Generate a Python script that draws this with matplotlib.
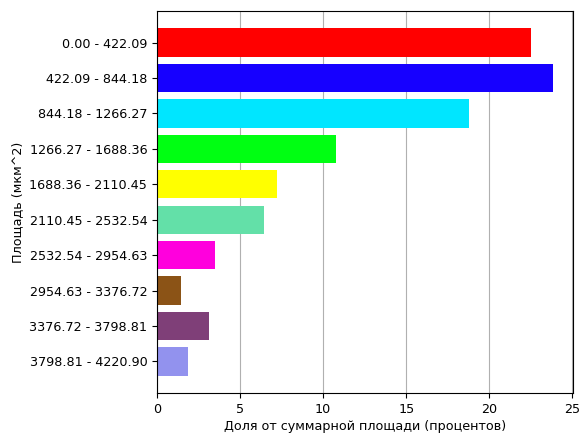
import matplotlib
matplotlib.use("Agg")
import matplotlib.pyplot as plt

categories = ["0.00 - 422.09", "422.09 - 844.18", "844.18 - 1266.27", "1266.27 - 1688.36",
              "1688.36 - 2110.45", "2110.45 - 2532.54", "2532.54 - 2954.63", "2954.63 - 3376.72",
              "3376.72 - 3798.81", "3798.81 - 4220.90"]
values = [22.53, 23.85, 18.77, 10.79, 7.22, 6.46, 3.52, 1.44, 3.12, 1.88]
colors = ["#ff0000", "#1600ff", "#00e6ff", "#00ff12", "#ffff00", "#63e0a8",
          "#ff00dd", "#8b5316", "#7f3f78", "#9292ee"]

plt.rcParams['font.size'] = 9.2
fig = plt.figure(figsize=(5.82, 4.33), dpi=100)
ax = fig.add_axes([0.2698, 0.0924, 0.7148, 0.882])
ax.barh(categories, values, color=colors, height=0.8, zorder=2)
ax.invert_yaxis()
ax.grid(axis="x", color="#b0b0b0", linewidth=0.8, zorder=0)
ax.set_axisbelow(True)
ax.set_xlabel("Доля от суммарной площади (процентов)", labelpad=3)
ax.set_ylabel("Площадь (мкм^2)")
fig.savefig("out.png", dpi=100)
